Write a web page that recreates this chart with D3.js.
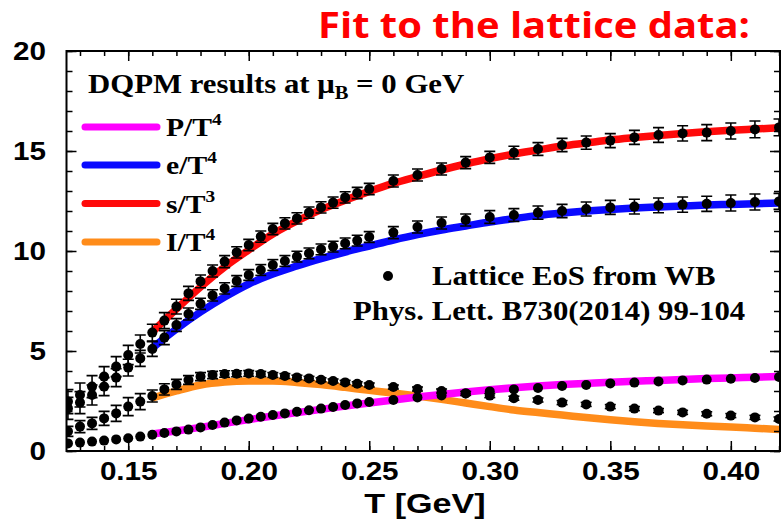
<!DOCTYPE html>
<html>
<head>
<meta charset="utf-8">
<script src="https://cdnjs.cloudflare.com/ajax/libs/d3/7.8.5/d3.min.js"></script>
<style>
  body { margin: 0; background: #fff; }
  svg { display: block; }
</style>
</head>
<body>
<script>
// lattice points (WB)
const latT = [0.125, 0.13, 0.135, 0.14, 0.145, 0.15, 0.155, 0.16, 0.165, 0.17,
  0.175, 0.18, 0.185, 0.19, 0.195, 0.2, 0.205, 0.21, 0.215, 0.22,
  0.225, 0.23, 0.235, 0.24, 0.245, 0.25,
  0.26, 0.27, 0.28, 0.29, 0.3, 0.31, 0.32, 0.33, 0.34, 0.35, 0.36, 0.37, 0.38, 0.39, 0.4, 0.41, 0.42];
const latS = [2.47, 2.8, 3.22, 3.72, 4.22, 4.8, 5.35, 5.92, 6.52, 7.22,
  7.88, 8.48, 9.0, 9.47, 9.93, 10.3, 10.72, 11.1, 11.38, 11.63,
  11.92, 12.18, 12.42, 12.68, 12.9, 13.1,
  13.5, 13.8, 14.1, 14.42, 14.68, 14.92, 15.1, 15.3, 15.42, 15.52, 15.68, 15.8, 15.88, 15.92, 16.0, 16.08, 16.18];
const latE = [2.13, 2.42, 2.8, 3.22, 3.67, 4.17, 4.63, 5.1, 5.67, 6.3,
  6.85, 7.36, 7.78, 8.13, 8.5, 8.8, 9.05, 9.3, 9.5, 9.72,
  9.88, 10.08, 10.22, 10.38, 10.52, 10.7,
  10.92, 11.2, 11.4, 11.55, 11.7, 11.8, 11.92, 12.0, 12.1, 12.18, 12.22, 12.28, 12.32, 12.36, 12.4, 12.45, 12.48];
const latI = [0.98, 1.22, 1.38, 1.63, 1.88, 2.22, 2.47, 2.75, 3.08, 3.33,
  3.55, 3.72, 3.8, 3.85, 3.86, 3.88, 3.85, 3.8, 3.75, 3.68,
  3.63, 3.56, 3.5, 3.43, 3.36, 3.3,
  3.2, 3.1, 3.0, 2.88, 2.77, 2.64, 2.55, 2.42, 2.33, 2.22, 2.12, 2.02, 1.93, 1.86, 1.77, 1.68, 1.6];
const latP = [0.38, 0.42, 0.47, 0.52, 0.58, 0.64, 0.72, 0.81, 0.9, 0.98,
  1.07, 1.18, 1.3, 1.42, 1.53, 1.62, 1.71, 1.8, 1.88, 1.96,
  2.04, 2.12, 2.2, 2.3, 2.38, 2.45,
  2.55, 2.68, 2.78, 2.88, 2.98, 3.08, 3.15, 3.25, 3.3, 3.38, 3.42, 3.48, 3.53, 3.57, 3.61, 3.65, 3.7];

// error bars
const errS = [0.6, 0.6, 0.55, 0.5, 0.5, 0.48, 0.45, 0.42, 0.4, 0.37,
  0.35, 0.32, 0.3, 0.3, 0.28, 0.28, 0.28, 0.28, 0.28, 0.28,
  0.28, 0.28, 0.28, 0.28, 0.28, 0.28,
  0.3, 0.3, 0.3, 0.3, 0.3, 0.32, 0.32, 0.33, 0.33, 0.35, 0.35, 0.37, 0.38, 0.4, 0.4, 0.42, 0.42];
const errE = [0.55, 0.55, 0.5, 0.45, 0.45, 0.42, 0.4, 0.37, 0.35, 0.32,
  0.3, 0.28, 0.28, 0.28, 0.27, 0.27, 0.27, 0.27, 0.27, 0.27,
  0.27, 0.27, 0.27, 0.27, 0.27, 0.27,
  0.3, 0.3, 0.3, 0.3, 0.32, 0.32, 0.33, 0.33, 0.35, 0.35, 0.37, 0.37, 0.38, 0.38, 0.4, 0.4, 0.4];
const errI = [0.25, 0.3, 0.3, 0.35, 0.4, 0.45, 0.4, 0.3, 0.28, 0.25,
  0.22, 0.2, 0.18, 0.16, 0.15, 0.14, 0.13, 0.12, 0.12, 0.11,
  0.1, 0.1, 0.1, 0.1, 0.1, 0.1,
  0.1, 0.1, 0.1, 0.1, 0.1, 0.1, 0.1, 0.1, 0.1, 0.1, 0.1, 0.1, 0.1, 0.1, 0.1, 0.1, 0.1];

// DQPM curves
const modelT = [0.16, 0.17, 0.18, 0.19, 0.2, 0.21, 0.22, 0.23, 0.24, 0.25, 0.26, 0.27, 0.28, 0.29,
  0.3, 0.31, 0.32, 0.33, 0.34, 0.35, 0.36, 0.37, 0.38, 0.39, 0.4, 0.41, 0.42];
const modelP = [0.85, 1.0, 1.18, 1.38, 1.57, 1.75, 1.92, 2.08, 2.25, 2.4, 2.55, 2.7, 2.83, 2.95,
  3.06, 3.16, 3.25, 3.32, 3.38, 3.44, 3.49, 3.53, 3.58, 3.62, 3.65, 3.69, 3.72];
const modelE = [5.15, 6.1, 6.95, 7.7, 8.35, 8.85, 9.25, 9.62, 9.95, 10.25, 10.55, 10.82, 11.05, 11.25,
  11.45, 11.62, 11.78, 11.9, 12.0, 12.08, 12.15, 12.2, 12.25, 12.3, 12.33, 12.36, 12.4];
const modelS = [5.95, 7.1, 8.2, 9.2, 10.05, 10.85, 11.5, 12.07, 12.54, 12.98, 13.38, 13.72, 14.05, 14.35,
  14.62, 14.85, 15.05, 15.25, 15.4, 15.55, 15.67, 15.78, 15.88, 15.96, 16.04, 16.1, 16.16];
const modelI = [2.65, 3.0, 3.3, 3.45, 3.5, 3.5, 3.43, 3.32, 3.18, 3.03, 2.9, 2.75, 2.58, 2.4,
  2.22, 2.05, 1.92, 1.8, 1.67, 1.56, 1.46, 1.38, 1.31, 1.25, 1.2, 1.14, 1.08];

const legendNames = ['P/T', 'e/T', 's/T', 'I/T'];
const legendPowers = ['4', '4', '3', '4'];
const legendColors = ['#ff00ff', '#0a0aff', '#ff0a0a', '#ff8c1a'];

const xMajor = [0.15, 0.2, 0.25, 0.3, 0.35, 0.4];
const xMinor = d3.range(13, 43).map(d => d / 100);
const yMajor = [0, 5, 10, 15, 20];
const yMinor = d3.range(0, 21);

const W = 784, H = 520;
const svg = d3.select('body').append('svg')
  .attr('width', W)
  .attr('height', H);

const x = d3.scaleLinear().domain([0.1244, 0.4204]).range([66.5, 780]);
const y = d3.scaleLinear().domain([0, 20]).range([451, 51]);

svg.append('clipPath').attr('id', 'plotclip')
  .append('rect')
  .attr('x', x.range()[0]).attr('y', y.range()[1])
  .attr('width', x.range()[1] - x.range()[0])
  .attr('height', y.range()[0] - y.range()[1]);

const plot = svg.append('g').attr('clip-path', 'url(#plotclip)');

// curves
const line = d3.line()
  .x(d => x(d[0]))
  .y(d => y(d[1]))
  .curve(d3.curveMonotoneX);

const curves = [
  { vals: modelI, color: legendColors[3] },
  { vals: modelP, color: legendColors[0] },
  { vals: modelE, color: legendColors[1] },
  { vals: modelS, color: legendColors[2] },
];
curves.forEach(c => {
  plot.append('path')
    .datum(modelT.map((t, i) => [t, c.vals[i]]))
    .attr('d', line)
    .attr('fill', 'none')
    .attr('stroke', c.color)
    .attr('stroke-width', 7.5);
});

// lattice points with error bars
const latSeries = [
  { vals: latS, err: errS },
  { vals: latE, err: errE },
  { vals: latI, err: errI },
  { vals: latP, err: null },
];
latSeries.forEach(s => {
  const pts = latT.map((t, i) => ({ t, v: s.vals[i], e: s.err ? s.err[i] : 0 }));
  if (s.err) {
    const bars = plot.append('g').attr('stroke', '#000').attr('stroke-width', 1.6);
    bars.selectAll('line.v').data(pts).enter().append('line')
      .attr('x1', d => x(d.t)).attr('x2', d => x(d.t))
      .attr('y1', d => y(d.v - d.e)).attr('y2', d => y(d.v + d.e));
    bars.selectAll('line.top').data(pts).enter().append('line')
      .attr('x1', d => x(d.t) - 5.5).attr('x2', d => x(d.t) + 5.5)
      .attr('y1', d => y(d.v + d.e)).attr('y2', d => y(d.v + d.e));
    bars.selectAll('line.bot').data(pts).enter().append('line')
      .attr('x1', d => x(d.t) - 5.5).attr('x2', d => x(d.t) + 5.5)
      .attr('y1', d => y(d.v - d.e)).attr('y2', d => y(d.v - d.e));
  }
  plot.append('g').selectAll('circle').data(pts).enter().append('circle')
    .attr('cx', d => x(d.t))
    .attr('cy', d => y(d.v))
    .attr('r', 5)
    .attr('fill', '#000');
});

// frame + ticks
svg.append('rect')
  .attr('x', x.range()[0]).attr('y', y.range()[1])
  .attr('width', x.range()[1] - x.range()[0])
  .attr('height', y.range()[0] - y.range()[1])
  .attr('fill', 'none')
  .attr('stroke', '#000')
  .attr('stroke-width', 2);

const noDomain = g => g.select('.domain').remove();
const styleTicks = g => g.selectAll('line').attr('stroke', '#000').attr('stroke-width', 1.5);

const xAx = svg.append('g').attr('transform', `translate(0,${y(0)})`)
  .call(d3.axisBottom(x).tickValues(xMajor).tickSize(-10).tickPadding(11).tickFormat(d3.format('.2f')))
  .call(noDomain).call(styleTicks);
svg.append('g').attr('transform', `translate(0,${y(0)})`)
  .call(d3.axisBottom(x).tickValues(xMinor).tickSize(-5).tickFormat(''))
  .call(noDomain).call(styleTicks);
svg.append('g').attr('transform', `translate(0,${y(20)})`)
  .call(d3.axisTop(x).tickValues(xMajor).tickSize(-10).tickFormat(''))
  .call(noDomain).call(styleTicks);
svg.append('g').attr('transform', `translate(0,${y(20)})`)
  .call(d3.axisTop(x).tickValues(xMinor).tickSize(-5).tickFormat(''))
  .call(noDomain).call(styleTicks);

const yAx = svg.append('g').attr('transform', `translate(${x.range()[0]},0)`)
  .call(d3.axisLeft(y).tickValues(yMajor).tickSize(-10).tickPadding(18))
  .call(noDomain).call(styleTicks);
svg.append('g').attr('transform', `translate(${x.range()[0]},0)`)
  .call(d3.axisLeft(y).tickValues(yMinor).tickSize(-6).tickFormat(''))
  .call(noDomain).call(styleTicks);
svg.append('g').attr('transform', `translate(${x.range()[1]},0)`)
  .call(d3.axisRight(y).tickValues(yMajor).tickSize(-10).tickFormat(''))
  .call(noDomain).call(styleTicks);
svg.append('g').attr('transform', `translate(${x.range()[1]},0)`)
  .call(d3.axisRight(y).tickValues(yMinor).tickSize(-6).tickFormat(''))
  .call(noDomain).call(styleTicks);

[xAx, yAx].forEach(g => {
  g.selectAll('text')
    .attr('font-family', '"Liberation Sans", Arial, sans-serif')
    .attr('font-weight', 'bold')
    .attr('font-size', 26)
    .attr('fill', '#000')
    .attr('transform', 'scale(1.14,1)');
});

// text helper: stretched horizontally like the original
function addText(x0, y0, k) {
  return svg.append('g')
    .attr('transform', `translate(${x0},${y0}) scale(${k},1)`)
    .append('text');
}

addText(425, 513, 1.22)
  .attr('text-anchor', 'middle')
  .attr('font-family', '"Liberation Sans", Arial, sans-serif')
  .attr('font-weight', 'bold')
  .attr('font-size', 28)
  .text('T [GeV]');

addText(318, 38, 1)
  .attr('font-family', '"Liberation Sans Narrow", "Open Sans", sans-serif')
  .attr('font-weight', 'bold')
  .attr('font-size', 35)
  .attr('fill', '#ff0000')
  .attr('textLength', 432)
  .attr('lengthAdjust', 'spacingAndGlyphs')
  .text('Fit to the lattice data:');

const serif = '"Liberation Serif", "Times New Roman", serif';

const head = addText(88, 93, 1.14)
  .attr('font-family', serif)
  .attr('font-weight', 'bold')
  .attr('font-size', 27);
head.append('tspan').text('DQPM results at \u03bc');
head.append('tspan').attr('font-size', 18).attr('dy', 6).text('B');
head.append('tspan').attr('dy', -6).text(' = 0 GeV');

// legend
const legY = [127, 165, 203.5, 242];
legendNames.forEach((name, i) => {
  svg.append('line')
    .attr('x1', 85).attr('x2', 157)
    .attr('y1', legY[i]).attr('y2', legY[i])
    .attr('stroke', legendColors[i])
    .attr('stroke-width', 7)
    .attr('stroke-linecap', 'round');
  const t = addText(166, legY[i] + 9, 1.14)
    .attr('font-family', serif)
    .attr('font-weight', 'bold')
    .attr('font-size', 26);
  t.append('tspan').text(name);
  t.append('tspan').attr('font-size', 17).attr('dy', -11).text(legendPowers[i]);
});

svg.append('circle').attr('cx', 388).attr('cy', 276).attr('r', 5).attr('fill', '#000');
addText(432, 285, 1.14)
  .attr('font-family', serif)
  .attr('font-weight', 'bold')
  .attr('font-size', 27)
  .text('Lattice EoS from WB');
addText(353, 320, 1.14)
  .attr('font-family', serif)
  .attr('font-weight', 'bold')
  .attr('font-size', 27)
  .text('Phys. Lett. B730(2014) 99-104');
</script>
</body>
</html>
